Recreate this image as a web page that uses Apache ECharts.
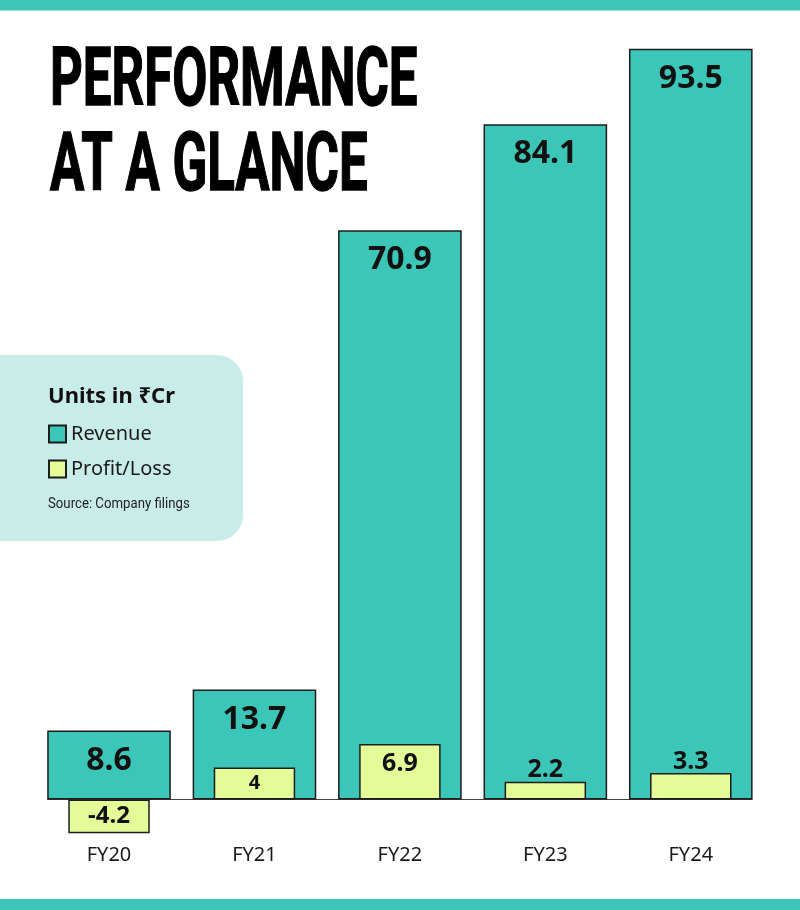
<!DOCTYPE html>
<html><head><meta charset="utf-8">
<script src="https://cdn.jsdelivr.net/npm/echarts@6/dist/echarts.min.js"></script>
<style>html,body{margin:0;padding:0;background:#fff}#c{width:800px;height:910px}</style>
</head><body><div id="c"></div>
<script>
const categories = ['FY20', 'FY21', 'FY22', 'FY23', 'FY24'];
const revenue = [8.6, 13.7, 70.9, 84.1, 93.5];
const profit = [-4.2, 4, 6.9, 2.2, 3.3];
const seriesNames = ['Revenue', 'Profit/Loss'];

const TEAL = '#3cc6b8', LIME = '#e4fc98', BORDER = '#1c1c1c';
const REV_W = 0.85;
const NUMFONT = "'Noto Sans', 'Open Sans', sans-serif";
const Y_MIN = -10, Y_MAX = 95;
const GRID_TOP = 36.65, GRID_BOTTOM = 30.2;
// offset that lifts the category axis from the grid bottom up to the zero line
const ZERO_OFFSET = -((910 - GRID_TOP - GRID_BOTTOM) * (0 - Y_MIN) / (Y_MAX - Y_MIN));

function profitLabel(v) {
  const h = Math.abs(v);
  if (v < 0) return { position: 'inside', fontSize: 24 };
  if (h < 3.5) return { position: 'top', distance: -1, fontSize: 25 };
  if (h < 5) return { position: 'inside', fontSize: 20 };
  return { position: 'insideTop', distance: 7, fontSize: 25 };
}

const chart = echarts.init(document.getElementById('c'), null, { renderer: 'canvas' });
chart.setOption({
  animation: false,
  backgroundColor: '#ffffff',
  grid: { left: 36.3, right: 36.5, top: GRID_TOP, bottom: GRID_BOTTOM, containLabel: false, outerBoundsMode: 'none' },
  xAxis: [
    { type: 'category', data: categories, position: 'bottom', offset: ZERO_OFFSET,
      axisLine: { show: false, onZero: false }, axisTick: { show: false },
      axisLabel: { margin: 46, fontSize: 20, color: '#1a1a1a', fontFamily: NUMFONT } },
    { type: 'category', data: categories, show: false }
  ],
  yAxis: { type: 'value', min: Y_MIN, max: Y_MAX, show: false, splitLine: { show: false } },
  legend: {
    data: seriesNames, orient: 'vertical', left: 48, top: 424, itemWidth: 17, itemHeight: 17,
    itemGap: 15, icon: 'rect', selectedMode: false, padding: 0,
    textStyle: { fontSize: 20, color: '#1a1a1a', fontFamily: NUMFONT }
  },
  series: [
    {
      type: 'custom', xAxisIndex: 0, yAxisIndex: 0, silent: true, z: 1,
      data: [[0, categories.length - 1]],
      encode: { x: 0, y: 1 },
      renderItem: function (params, api) {
        const band = api.size([1, 0])[0];
        const p0 = api.coord([api.value(0), 0]);
        const p1 = api.coord([api.value(1), 0]);
        const half = band * REV_W / 2;
        return { type: 'line', shape: { x1: p0[0] - half, y1: p0[1], x2: p1[0] + half, y2: p1[1] },
          style: { stroke: '#444', lineWidth: 1.2 } };
      }
    },
    {
      name: seriesNames[0], type: 'bar', xAxisIndex: 0, barWidth: (REV_W * 100) + '%', z: 2,
      data: revenue,
      itemStyle: { color: TEAL, borderColor: BORDER, borderWidth: 1.5 },
      label: { show: true, position: 'insideTop', distance: 14, fontSize: 32, fontWeight: 'bold',
        color: '#111', fontFamily: NUMFONT }
    },
    {
      name: seriesNames[1], type: 'bar', xAxisIndex: 1, barWidth: '56%', z: 3,
      data: profit.map(v => ({ value: v, label: profitLabel(v) })),
      itemStyle: { color: LIME, borderColor: BORDER, borderWidth: 1.5 },
      label: { show: true, fontWeight: 'bold', color: '#111', fontFamily: NUMFONT }
    }
  ],
  graphic: [
    { type: 'rect', shape: { x: 0, y: 0, width: 800, height: 10.5 }, style: { fill: TEAL }, z: 0 },
    { type: 'rect', shape: { x: 0, y: 899, width: 800, height: 11 }, style: { fill: TEAL }, z: 0 },
    { type: 'rect', shape: { x: -30, y: 355, width: 273, height: 186, r: 26 }, style: { fill: '#c8ece8' }, z: 0 },
    { type: 'text', x: 50, y: 42, scaleX: 0.622, z: 5,
      style: { text: 'PERFORMANCE\nAT A GLANCE', font: "bold 82px Roboto", fill: '#000', lineHeight: 85,
        textVerticalAlign: 'top', stroke: '#000', lineWidth: 1.5 } },
    { type: 'text', x: 48, y: 386, z: 5,
      style: { text: 'Units in ₹Cr', font: "bold 22px 'Noto Sans'", fill: '#111', textVerticalAlign: 'top' } },
    { type: 'text', x: 48, y: 497, scaleX: 0.88, z: 5,
      style: { text: 'Source: Company filings', font: "15px Roboto", fill: '#222', textVerticalAlign: 'top' } }
  ]
});
</script>
</body></html>
